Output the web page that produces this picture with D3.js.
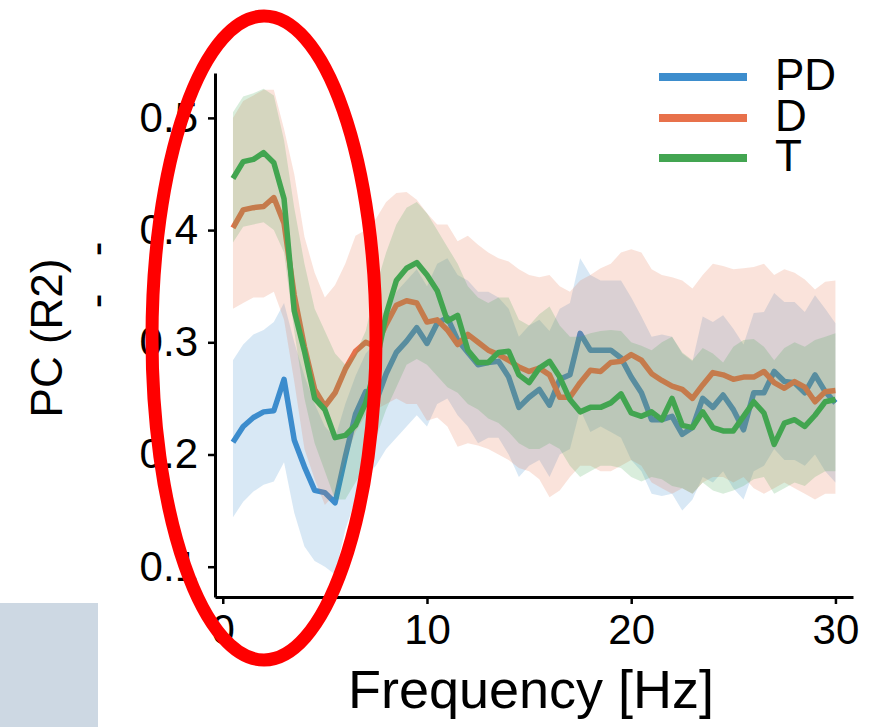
<!DOCTYPE html>
<html>
<head>
<meta charset="utf-8">
<script src="https://cdn.jsdelivr.net/npm/d3@7"></script>
<style>
  body { margin: 0; background: #fff; }
  svg { display: block; font-family: "Liberation Sans", Arial, sans-serif; }
</style>
</head>
<body>
<div id="chart"></div>
<script>
// frequency grid (Hz)
var freqs = [0.5,1,1.5,2,2.5,3,3.5,4,4.5,5,5.5,6,6.5,7,7.5,8,8.5,9,9.5,10,
  10.5,11,11.5,12,12.5,13,13.5,14,14.5,15,15.5,16,16.5,17,17.5,18,18.5,19,19.5,20,
  20.5,21,21.5,22,22.5,23,23.5,24,24.5,25,25.5,26,26.5,27,27.5,28,28.5,29,29.5,30]

// PD
var pdMean = [.211,.225,.233,.238,.239,.267,.213,.189,.168,.166,.157,
  .198,.236,.256,.247,.272,.291,.301,.313,.299,.317,.322,
  .302,.291,.280,.282,.283,.269,.242,.251,.258,.244,.267,
  .271,.308,.293,.293,.293,.286,.269,.255,.231,.231,.234,
  .218,.224,.250,.242,.253,.240,.222,.255,.255,.274,.265,
  .264,.255,.271,.256,.246]
var pdHi = [.284,.298,.307,.311,.318,.335,.30,.27,.245,.225,.215,
  .245,.27,.29,.30,.325,.345,.355,.365,.35,.37,.375,
  .36,.355,.345,.345,.34,.33,.305,.315,.32,.31,.33,
  .335,.375,.36,.355,.355,.355,.34,.323,.305,.307,.305,
  .29,.283,.323,.318,.324,.312,.298,.326,.327,.344,.336,
  .336,.327,.342,.330,.317]
var pdLo = [.144,.158,.167,.173,.176,.193,.148,.118,.105,.10,.093,
  .133,.16,.18,.19,.205,.215,.225,.235,.225,.245,.25,
  .235,.225,.21,.215,.215,.20,.18,.19,.195,.18,.20,
  .205,.24,.22,.225,.22,.215,.195,.185,.165,.163,.165,
  .15,.16,.18,.175,.185,.17,.16,.185,.19,.205,.195,
  .195,.19,.20,.185,.175]

// D
var dMean = [.402,.418,.420,.421,.429,.406,.342,.296,.258,.243,.255,
  .276,.292,.300,.296,.316,.333,.337,.335,.318,.320,.311,
  .298,.307,.300,.293,.289,.284,.278,.274,.277,.271,.251,
  .251,.264,.275,.274,.282,.283,.289,.284,.272,.266,.261,
  .258,.250,.262,.273,.271,.267,.269,.269,.274,.264,.259,
  .265,.260,.247,.256,.257]
var dHi = [.50,.515,.52,.525,.525,.49,.45,.394,.362,.34,.351,
  .37,.395,.40,.41,.425,.433,.434,.427,.415,.405,.405,
  .39,.395,.387,.38,.375,.372,.365,.36,.358,.36,.35,
  .345,.355,.36,.366,.37,.38,.383,.38,.365,.36,.358,
  .355,.348,.36,.37,.368,.365,.366,.367,.37,.36,.365,
  .362,.356,.347,.354,.355]
var dLo = [.33,.335,.34,.34,.345,.32,.265,.205,.178,.155,.165,
  .195,.22,.235,.24,.245,.25,.245,.245,.23,.233,.225,
  .207,.21,.208,.205,.20,.195,.188,.185,.178,.162,.168,
  .18,.19,.19,.185,.185,.19,.195,.19,.175,.17,.165,
  .17,.165,.175,.18,.18,.175,.18,.17,.165,.17,.175,
  .17,.165,.16,.165,.165]

// T
var tMean = [.446,.461,.463,.469,.460,.428,.328,.292,.250,.240,.215,
  .217,.226,.246,.280,.325,.355,.366,.371,.360,.346,.319,
  .324,.293,.282,.282,.291,.292,.271,.264,.277,.283,.269,
  .249,.238,.242,.242,.246,.254,.237,.234,.238,.231,.250,
  .226,.224,.238,.224,.221,.221,.234,.247,.237,.209,.228,
  .231,.225,.235,.247,.249]
var tHi = [.505,.519,.522,.526,.52,.48,.42,.37,.33,.31,.29,
  .28,.29,.31,.35,.38,.405,.42,.425,.415,.40,.385,
  .37,.35,.34,.335,.34,.34,.32,.315,.325,.332,.315,
  .305,.305,.308,.31,.311,.31,.30,.297,.293,.30,.305,
  .291,.284,.295,.29,.282,.296,.302,.303,.296,.284,.295,
  .30,.296,.302,.305,.308]
var tLo = [.389,.403,.405,.407,.40,.38,.31,.25,.21,.185,.16,
  .16,.175,.19,.215,.24,.26,.28,.285,.28,.27,.26,
  .255,.245,.24,.232,.228,.22,.21,.205,.205,.21,.205,
  .19,.18,.185,.19,.19,.188,.18,.176,.18,.178,.172,
  .17,.165,.175,.168,.165,.168,.172,.178,.18,.165,.17,
  .175,.172,.18,.185,.185]

var seriesNames = ["PD", "D", "T"]
var seriesColors = ["#3d8dcd", "#e8714b", "#43a551"]
var yTicks = [0.1, 0.2, 0.3, 0.4, 0.5]
var xTicks = [0, 10, 20, 30]

var series = [
  {name: seriesNames[0], color: seriesColors[0], mean: pdMean, lo: pdLo, hi: pdHi},
  {name: seriesNames[1], color: seriesColors[1], mean: dMean, lo: dLo, hi: dHi},
  {name: seriesNames[2], color: seriesColors[2], mean: tMean, lo: tLo, hi: tHi}
]

var width = 884, height = 727

var svg = d3.select("#chart").append("svg")
    .attr("width", width)
    .attr("height", height)

var x = d3.scaleLinear().domain([-0.38, 30.86]).range([215, 853])
var y = d3.scaleLinear().domain([0.073, 0.54]).range([597, 73])

// grey patch bottom-left
svg.append("rect")
    .attr("x", 0).attr("y", 603)
    .attr("width", 98).attr("height", 124)
    .attr("fill", "#cdd8e3")

var line = d3.line()
    .x(function(d, i) { return x(freqs[i]) })
    .y(function(d) { return y(d) })

var area = d3.area()
    .x(function(d, i) { return x(freqs[i]) })
    .y0(function(d) { return y(d[0]) })
    .y1(function(d) { return y(d[1]) })

// line first, then its band on top (like fill_between after plot)
series.forEach(function(s) {
  svg.append("path")
      .attr("d", line(s.mean))
      .attr("fill", "none")
      .attr("stroke", s.color)
      .attr("stroke-width", 5.5)
      .attr("stroke-linejoin", "round")
  svg.append("path")
      .attr("d", area(s.lo.map(function(v, i) { return [v, s.hi[i]] })))
      .attr("fill", s.color)
      .attr("opacity", 0.2)
})

// axes
var yAxis = svg.append("g")
    .attr("transform", "translate(215,0)")
    .call(d3.axisLeft(y).tickValues(yTicks).tickFormat(d3.format(".1f"))
      .tickSize(7).tickSizeOuter(0).tickPadding(10))
var xAxis = svg.append("g")
    .attr("transform", "translate(0,597)")
    .call(d3.axisBottom(x).tickValues(xTicks).tickFormat(d3.format("d"))
      .tickSize(7).tickSizeOuter(0).tickPadding(10))

;[yAxis, xAxis].forEach(function(g) {
  g.select(".domain").attr("stroke", "#000").attr("stroke-width", 3)
  g.selectAll(".tick line").attr("stroke", "#000").attr("stroke-width", 2.5)
  g.selectAll(".tick text")
      .attr("fill", "#000")
      .style("font-family", "Liberation Sans, Arial, sans-serif")
      .style("font-size", "42px")
})

// axis labels
svg.append("text")
    .attr("x", 531).attr("y", 708)
    .attr("text-anchor", "middle")
    .style("font-size", "54px")
    .text("Frequency [Hz]")

svg.append("text")
    .attr("transform", "translate(62,338) rotate(-90)")
    .attr("text-anchor", "middle")
    .style("font-size", "44px")
    .text("PC (R2)")

// two stray dashes beside the y label
;[249, 301].forEach(function(yy) {
  svg.append("text")
      .attr("transform", "translate(111," + yy + ") rotate(-90)")
      .attr("text-anchor", "middle")
      .style("font-size", "44px")
      .text("-")
})

// legend
var legend = svg.append("g")
series.forEach(function(s, i) {
  var ly = [77, 118, 158][i]
  legend.append("line")
      .attr("x1", 659).attr("x2", 747)
      .attr("y1", ly).attr("y2", ly)
      .attr("stroke", s.color)
      .attr("stroke-width", 8)
  legend.append("text")
      .attr("x", 775).attr("y", ly + 13)
      .style("font-size", "44px")
      .text(s.name)
})

// red highlight ellipse
svg.append("ellipse")
    .attr("cx", 264).attr("cy", 338)
    .attr("rx", 112).attr("ry", 322)
    .attr("fill", "none")
    .attr("stroke", "#ff0000")
    .attr("stroke-width", 13)
</script>
</body>
</html>
